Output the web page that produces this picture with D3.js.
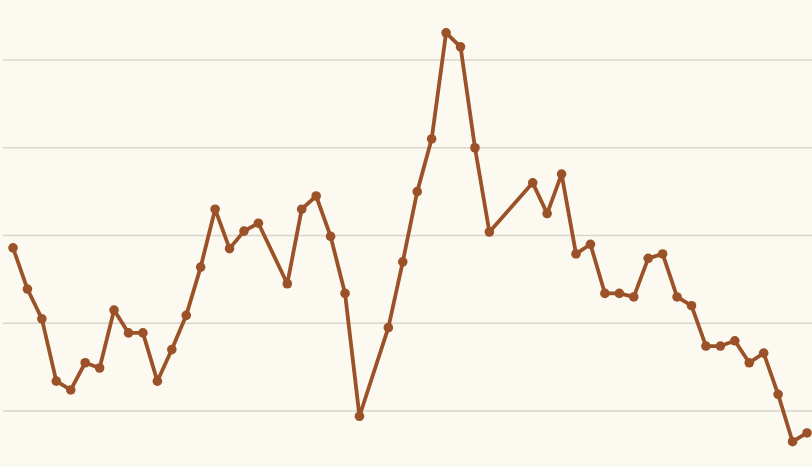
<!DOCTYPE html>
<html>
<head>
<meta charset="utf-8">
<script src="https://cdn.jsdelivr.net/npm/d3@7"></script>
<style>
  html, body { margin: 0; padding: 0; background: #fcf9f1; }
  svg { display: block; }
</style>
</head>
<body>
<div id="chart"></div>
<script>
// slot positions along the time axis (some slots have no reading)
const slots = [0, 1, 2, 3, 4, 5, 6, 7, 8, 9, 10, 11, 12, 13, 14, 15, 16, 17,
  19, 20, 21, 22, 23, 24, 26, 27, 28, 29, 30, 31, 32, 33,
  36, 37, 38, 39, 40, 41, 42, 43, 44, 45, 46, 47, 48, 49, 50, 51, 52, 53, 54, 55]
const values = [28.6, 23.9, 20.5, 13.4, 12.4, 15.5, 14.9, 21.5, 18.9, 18.9, 13.4, 17.0, 20.9, 26.4, 33.0, 28.5, 30.5, 31.4,
  24.5, 33.0, 34.5, 29.9, 23.4, 9.4, 19.5, 27.0, 35.0, 41.0, 53.1, 51.5, 40.0, 30.4,
  36.0, 32.5, 37.0, 27.9, 29.0, 23.4, 23.4, 23.0, 27.4, 27.9, 23.0, 22.0, 17.4, 17.4, 18.0, 15.5, 16.6, 11.9, 6.5, 7.5]
const gridValues = [10, 20, 30, 40, 50]

const width = 812
const height = 467
const margin = { top: 60, right: 5, bottom: 56, left: 13 }

const svg = d3.select("#chart")
  .append("svg")
  .attr("width", width)
  .attr("height", height)

svg.append("rect")
  .attr("width", width).attr("height", height)
  .attr("fill", "#fcf9f1")

const x = d3.scaleLinear()
  .domain([0, 55])
  .range([margin.left, width - margin.right])

const y = d3.scaleLinear()
  .domain([10, 50])
  .range([height - margin.bottom, margin.top])

// Gridlines
svg.append("g")
  .selectAll("line")
  .data(gridValues)
  .enter()
  .append("line")
  .attr("x1", 3).attr("x2", width)
  .attr("y1", d => y(d)).attr("y2", d => y(d))
  .attr("stroke", "#d9d5cd")
  .attr("stroke-width", 1.5)

const data = slots.map((s, i) => ({ s, v: values[i] }))

const line = d3.line()
  .x(d => x(d.s))
  .y(d => y(d.v))

svg.append("path")
  .datum(data)
  .attr("fill", "none")
  .attr("stroke", "#9b5228")
  .attr("stroke-width", 3.8)
  .attr("stroke-linejoin", "round")
  .attr("d", line)

svg.append("g")
  .selectAll("circle")
  .data(data)
  .enter()
  .append("circle")
  .attr("cx", d => x(d.s))
  .attr("cy", d => y(d.v))
  .attr("r", 4.8)
  .attr("fill", "#9b5228")
</script>
</body>
</html>
